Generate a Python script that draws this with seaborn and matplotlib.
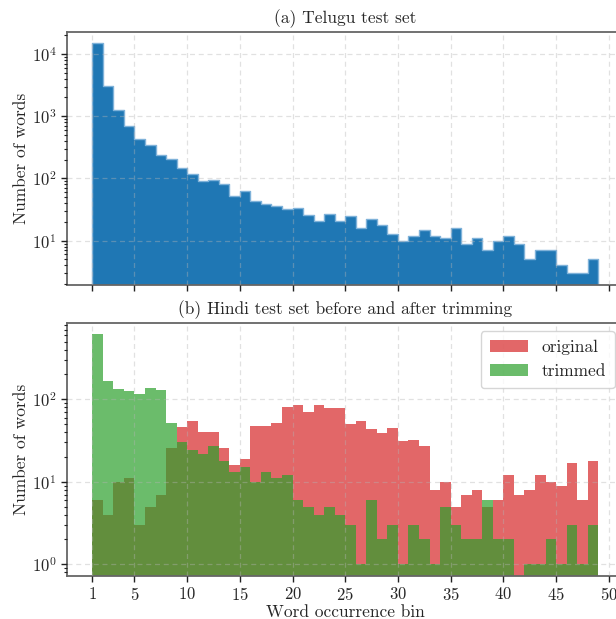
import numpy as np
import pandas as pd
import matplotlib
matplotlib.use("Agg")
import matplotlib.pyplot as plt
import seaborn as sns

# ---- data ----
bins = list(range(1, 49))  # word occurrence bins 1..48 (edges 1..49)
telugu_counts = [14870, 3090, 1273, 703, 430, 340, 238, 203, 147, 118,
                 92, 94, 80, 53, 62, 43, 39, 36, 32, 33,
                 26, 21, 27, 21, 25, 16, 22, 18, 13, 10,
                 12, 15, 12, 11, 16, 9, 11, 7, 10, 12,
                 9, 5, 7, 7, 4, 3, 3, 5]
hindi_original = [6, 4, 10, 11, 3, 5, 7, 26, 46, 55,
                  40, 40, 26, 16, 19, 48, 47, 52, 80, 85,
                  70, 85, 79, 79, 50, 54, 44, 39, 45, 31,
                  32, 27, 8, 10, 5, 7, 8, 5, 6, 12,
                  7, 8, 12, 10, 9, 17, 6, 18]
hindi_trimmed = [614, 165, 133, 127, 116, 138, 130, 52, 30, 24,
                 22, 27, 18, 13, 15, 10, 13, 11, 12, 6,
                 5, 4, 5, 4, 3, 1, 6, 2, 3, 1,
                 3, 2, 1, 5, 3, 2, 2, 6, 2, 2,
                 0, 1, 1, 2, 1, 3, 1, 3]
xticks = [1, 5, 10, 15, 20, 25, 30, 35, 40, 45, 50]
titles = ["(a) Telugu test set", "(b) Hindi test set before and after trimming"]
legend_labels = ["original", "trimmed"]

sns.set_style("ticks")
plt.rcParams["font.family"] = ["cmr10", "DejaVu Serif"]
plt.rcParams["mathtext.fontset"] = "cm"
plt.rcParams["axes.formatter.use_mathtext"] = True
plt.rcParams["axes.unicode_minus"] = False

df = pd.DataFrame({"bin": np.array(bins, dtype=float) + 0.5,
                   "telugu": telugu_counts,
                   "orig": hindi_original, "trim": hindi_trimmed})

fig = plt.figure(figsize=(6.16, 6.19), dpi=100)
W, H = 616, 619
def pos(l, t, w, h):
    return [l / W, 1 - (t + h) / H, w / W, h / H]

ax1 = fig.add_axes(pos(67, 31.7, 556.5, 253.3))
ax2 = fig.add_axes(pos(67, 322.7, 556.5, 253.0))

for ax in (ax1, ax2):
    ax.set_yscale("log")

hkw = dict(binwidth=1, binrange=(1, 49), element="step")
sns.histplot(data=df, x="bin", weights="telugu", color="#1f77b4", alpha=1.0,
             linewidth=1.0, edgecolor="#7fb2d9", ax=ax1, **hkw)
sns.histplot(data=df, x="bin", weights="orig", color="#d62728", alpha=0.7,
             linewidth=0.0, ax=ax2, label=legend_labels[0], **hkw)
sns.histplot(data=df, x="bin", weights="trim", color="#2ca02c", alpha=0.7,
             linewidth=0.0, ax=ax2, label=legend_labels[1], **hkw)

ax1.set_ylim(1.94, 2.28e4)
ax2.set_ylim(0.728, 847)

for ax, title in zip((ax1, ax2), titles):
    ax.set_xlim(-1.4, 51.4)
    ax.set_xticks(xticks)
    ax.set_title(title, fontsize=12.5, pad=6)
    ax.set_ylabel("Number of words", fontsize=12.5, labelpad=2)
    ax.grid(True, which="major", linestyle=(0, (4, 3)), color="#b4b4b4",
            alpha=0.4, linewidth=0.9)
    ax.set_axisbelow(False)
    for sp in ax.spines.values():
        sp.set_visible(True)
        sp.set_color("#666666")
        sp.set_linewidth(1.3)
    ax.tick_params(axis="both", which="major", labelsize=12, length=4.5, width=1,
                   color="#222222", pad=3)
    ax.tick_params(axis="y", which="minor", length=2.5, width=0.8, color="#222222")

ax1.set_xlabel("")
ax1.tick_params(axis="x", labelbottom=False)
ax2.set_xlabel("Word occurrence bin", fontsize=12.5, labelpad=1)

leg = ax2.legend(loc="upper right", fontsize=12.5, frameon=True, fancybox=True,
                 handlelength=2.2, borderpad=0.5)
leg.get_frame().set_edgecolor("#cccccc")

fig.savefig("out.png", dpi=100)
